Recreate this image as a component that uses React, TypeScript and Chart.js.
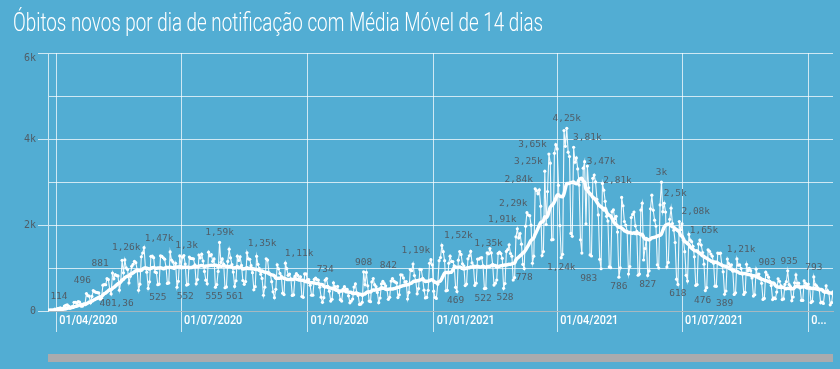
import React, { useEffect, useRef } from 'react';
import { Chart, registerables } from 'chart.js';

Chart.register(...registerables);

// ---------- DATA ----------
const startDate = '2020-03-26';

const mar2020 = [20, 15, 22, 22, 23, 42];
const apr2020 = [40, 58, 60, 73, 54, 67, 114, 133, 141, 115, 68, 99, 105, 204, 204, 188, 217, 206, 115, 113, 166, 165, 407, 357, 346, 189, 338, 474, 449, 435];
const may2020 = [428, 421, 275, 296, 600, 615, 610, 751, 730, 496, 396, 881, 749, 844, 824, 816, 485, 674, 1179, 888, 1188, 1001, 965, 653, 807, 1039, 1086, 1156, 1124, 956, 480];
const jun2020 = [623, 1262, 1349, 1473, 1005, 904, 525, 679, 1272, 1274, 1239, 909, 892, 612, 627, 1282, 1269, 1238, 1206, 1022, 641, 654, 1374, 1185, 1141, 990, 1109, 552, 692, 1280];
const jul2020 = [1038, 1252, 1290, 1091, 602, 620, 1254, 1223, 1220, 1214, 1071, 631, 733, 1300, 1233, 1322, 1163, 921, 716, 632, 1367, 1284, 1311, 1156, 1211, 555, 614, 921, 1595, 1129, 1212];
const aug2020 = [1088, 541, 561, 1154, 1437, 1237, 1079, 905, 572, 703, 1274, 1175, 1262, 1060, 709, 620, 684, 1352, 1212, 1204, 1054, 892, 494, 565, 1271, 1085, 984, 855, 758, 366, 553];
const sep2020 = [1215, 1184, 888, 855, 682, 447, 310, 504, 1075, 983, 874, 814, 415, 381, 1113, 987, 829, 858, 739, 363, 377, 809, 869, 829, 729, 794, 335, 317, 863, 863];
const oct2020 = [729, 728, 599, 366, 368, 734, 766, 730, 720, 552, 322, 201, 309, 716, 754, 571, 461, 230, 271, 657, 566, 497, 571, 432, 263, 231, 510, 566, 510, 502, 354];
const nov2020 = [190, 231, 278, 556, 630, 424, 363, 153, 162, 201, 908, 615, 898, 585, 230, 216, 676, 754, 612, 568, 431, 194, 302, 630, 691, 638, 587, 501, 272, 317];
const dec2020 = [697, 755, 694, 672, 654, 313, 376, 842, 836, 770, 672, 686, 279, 433, 964, 936, 1092, 823, 706, 401, 522, 968, 963, 762, 484, 303, 315, 481, 1111, 1194, 1074];
const jan2021 = [462, 314, 293, 620, 1171, 1242, 1524, 1379, 1171, 469, 480, 1110, 1274, 1151, 1151, 1050, 551, 452, 1183, 1382, 1316, 1096, 1050, 592, 627, 1214, 1283, 1386, 1119, 1051, 595];
const feb2021 = [647, 1209, 1208, 1232, 1239, 1051, 522, 528, 1350, 1330, 1452, 1351, 1085, 602, 647, 721, 1340, 1367, 1337, 1226, 527, 639, 1386, 1428, 1541, 1337, 1275, 721];
const mar2021 = [778, 1726, 1910, 1699, 1800, 1555, 1086, 987, 1972, 2286, 2233, 2216, 1997, 1111, 1275, 2841, 2798, 2724, 2815, 2438, 1290, 1383, 3251, 2009, 2777, 3650, 3438, 1656, 1660, 3668, 3869];
const apr2021 = [3769, 2922, 1987, 1240, 1319, 4195, 3829, 4249, 3693, 3593, 1803, 1738, 3808, 3459, 3560, 3305, 2929, 1657, 1347, 3321, 3472, 2027, 3370, 2865, 1305, 1279, 3086, 3163, 3001, 2595];
const may2021 = [2235, 1202, 983, 2966, 2811, 2550, 2202, 2091, 1024, 1007, 2311, 2350, 2145, 2201, 1835, 786, 1004, 2641, 2448, 2081, 1997, 1855, 860, 1035, 2173, 2245, 2300, 1981, 1855, 831, 860];
const jun2021 = [2346, 2507, 1186, 1454, 1689, 827, 935, 2378, 2693, 2344, 2112, 1976, 1074, 1000, 2468, 2997, 2311, 2504, 2301, 1025, 1129, 2131, 2392, 2032, 1880, 1593, 739, 618, 2081, 1891];
const jul2021 = [2029, 1648, 1379, 830, 695, 1780, 1648, 1612, 1505, 1259, 595, 614, 1556, 1650, 1532, 1360, 1088, 476, 542, 1424, 1388, 1324, 1274, 1108, 578, 573, 1346, 1340, 1344, 1074, 910];
const aug2021 = [389, 465, 1209, 1100, 1044, 1075, 924, 386, 422, 1210, 1064, 1071, 988, 858, 386, 435, 1086, 937, 989, 938, 770, 347, 378, 972, 832, 858, 770, 643, 269, 293, 903];
const sep2021 = [842, 786, 692, 591, 266, 303, 285, 440, 750, 692, 583, 266, 281, 618, 682, 935, 615, 565, 240, 326, 655, 839, 643, 648, 535, 246, 245, 700, 643, 595];
const oct2021 = [627, 538, 196, 225, 793, 615, 583, 541, 488, 191, 209, 176, 435, 587, 477, 422, 144, 197, 447];

const dailyDeaths: number[] = [
  ...mar2020, ...apr2020, ...may2020, ...jun2020, ...jul2020, ...aug2020, ...sep2020,
  ...oct2020, ...nov2020, ...dec2020, ...jan2021, ...feb2021, ...mar2021, ...apr2021,
  ...may2021, ...jun2021, ...jul2021, ...aug2021, ...sep2021, ...oct2021,
];

const movingWindow = 14;

const xTickDates = ['2020-04-01', '2020-07-01', '2020-10-01', '2021-01-01', '2021-04-01', '2021-07-01', '2021-10-01'];
const yLabeledTicks = [0, 2000, 4000, 6000];

// value labels shown on the chart
const labelDates = [
  '2020-04-03', '2020-04-20', '2020-05-03', '2020-05-22', '2020-06-15', '2020-07-05', '2020-07-29',
  '2020-08-29', '2020-09-25', '2020-10-14', '2020-11-11', '2020-11-29', '2020-12-19', '2021-01-19',
  '2021-02-10', '2021-02-20', '2021-02-28', '2021-03-04', '2021-03-11', '2021-03-14', '2021-04-08',
  '2021-04-23', '2021-05-03', '2021-05-15', '2021-04-04', '2021-04-24', '2021-05-16', '2021-06-06',
  '2021-06-16', '2021-06-26', '2021-07-11', '2021-07-17', '2021-06-28', '2021-07-16', '2021-08-01',
  '2021-08-13', '2021-09-01', '2021-09-17', '2021-10-05', '2021-01-17', '2021-02-06', '2021-02-22',
  '2021-03-08', '2020-06-14', '2020-07-04', '2020-07-25', '2020-08-09', '2020-05-15',
];
const labelValues = [
  114, 496, 881, 1262, 1473, 1300, 1595,
  1352, 1113, 734, 908, 842, 1194, 1524,
  1352, 1910, 2286, 2841, 3251, 3650, 4249,
  3808, 3472, 2811, 1240, 983, 786, 827,
  2997, 2504, 2081, 1650, 618, 476, 389,
  1210, 903, 935, 793, 469, 522, 528,
  778, 525, 552, 555, 561, 401.36,
];
const labelSides = [
  'a', 'a', 'a', 'a', 'a', 'a', 'a',
  'a', 'a', 'a', 'a', 'a', 'a', 'a',
  'a', 'a', 'a', 'a', 'a', 'a', 'a',
  'a', 'c', 'a', 'b', 'b', 'b', 'b',
  'a', 'a', 'a', 'a', 'b', 'b', 'b',
  'a', 'a', 'a', 'a', 'b', 'b', 'b',
  'c', 'b', 'b', 'b', 'b', 'b',
];

// ---------- HELPERS ----------
const dayNum = (s: string) => {
  const [y, m, d] = s.split('-').map(Number);
  return Math.round(Date.UTC(y, m - 1, d) / 86400000);
};
const pad2 = (n: number) => (n < 10 ? '0' + n : '' + n);
const fmtDate = (n: number) => {
  const dt = new Date(n * 86400000);
  return pad2(dt.getUTCDate()) + '/' + pad2(dt.getUTCMonth() + 1) + '/' + dt.getUTCFullYear();
};
const fmtValue = (v: number) => {
  if (v >= 1000) return String(Number((v / 1000).toPrecision(3))).replace('.', ',') + 'k';
  return String(Number(v.toFixed(2))).replace('.', ',');
};
const fmtAxis = (v: number) => (v === 0 ? '0' : v / 1000 + 'k');

const startDay = dayNum(startDate);
const endDay = startDay + dailyDeaths.length - 1;
const dailyPoints = dailyDeaths.map((v, i) => ({ x: startDay + i, y: v }));
const maPoints = dailyDeaths.map((_, i) => {
  const w = dailyDeaths.slice(Math.max(0, i - movingWindow + 1), i + 1);
  return { x: startDay + i, y: w.reduce((a, b) => a + b, 0) / w.length };
});

const BG = '#52add3';
const GRID = 'rgba(255,255,255,0.72)';
const LABEL_GREY = '#505d67';
const AXIS_MAX = 6000;

const valueLabelsPlugin = {
  id: 'valueLabels',
  afterDraw(chart: any) {
    const ctx = chart.ctx;
    const xs = chart.scales.x;
    const ys = chart.scales.y;
    ctx.save();
    ctx.font = '9.5px "DejaVu Sans Mono"';
    ctx.fillStyle = LABEL_GREY;
    ctx.textAlign = 'center';
    ctx.textBaseline = 'middle';
    labelDates.forEach((d, i) => {
      const v = labelValues[i];
      const side = labelSides[i];
      const off = side === 'a' ? -9.5 : side === 'b' ? 9.5 : 0;
      const x = xs.getPixelForValue(dayNum(d));
      const y = ys.getPixelForValue(v) + off;
      ctx.fillText(fmtValue(v), x, y);
    });
    // top axis label, kept inside the panel
    ctx.font = '10px "DejaVu Sans Mono"';
    ctx.textAlign = 'right';
    ctx.fillText(fmtAxis(AXIS_MAX), ys.right - 12, ys.getPixelForValue(AXIS_MAX) + 5.5);
    ctx.restore();
  },
};

const xLabelsPlugin = {
  id: 'xLabels',
  afterDraw(chart: any) {
    const ctx = chart.ctx;
    const xs = chart.scales.x;
    const sx = 0.84;
    ctx.save();
    ctx.font = '500 13px Roboto';
    ctx.fillStyle = '#ffffff';
    ctx.textAlign = 'left';
    ctx.textBaseline = 'middle';
    xs.ticks.forEach((t: any) => {
      const px = xs.getPixelForValue(t.value);
      let text = fmtDate(t.value);
      const avail = chart.chartArea.right - px - 8;
      if (ctx.measureText(text).width * sx > avail) {
        while (text.length > 1 && ctx.measureText(text + '...').width * sx > avail) text = text.slice(0, -1);
        text += '...';
      }
      ctx.save();
      ctx.translate(px + 3, xs.top + 9.5);
      ctx.scale(sx, 1);
      ctx.fillText(text, 0, 0);
      ctx.restore();
    });
    ctx.restore();
  },
};

export default function App() {
  const canvasRef = useRef<HTMLCanvasElement | null>(null);
  const titleRef = useRef<HTMLDivElement | null>(null);

  useEffect(() => {
    if (titleRef.current) {
      const w = titleRef.current.scrollWidth;
      if (w > 0) titleRef.current.style.transform = `scaleX(${530 / w})`;
    }
    const canvas = canvasRef.current;
    if (!canvas) return;
    const chart = new Chart(canvas, {
      type: 'line',
      data: {
        datasets: [
          {
            label: 'Média Móvel 14 dias',
            data: maPoints,
            borderColor: '#ffffff',
            borderWidth: 3.5,
            pointRadius: 0,
            tension: 0.4,
            order: 0,
          },
          {
            label: 'Óbitos novos',
            data: dailyPoints,
            borderColor: 'rgba(255,255,255,0.92)',
            borderWidth: 1.1,
            pointRadius: 1.6,
            pointBackgroundColor: '#ffffff',
            pointBorderWidth: 0,
            tension: 0,
            order: 1,
          },
        ],
      },
      options: {
        animation: false,
        responsive: false,
        events: [],
        layout: { padding: { top: 53, right: 7, bottom: 37, left: 0 } },
        plugins: {
          legend: { display: false },
          tooltip: { enabled: false },
          title: { display: false },
        },
        scales: {
          x: {
            type: 'linear',
            min: startDay,
            max: endDay,
            afterBuildTicks: (s: any) => {
              s.ticks = xTickDates.map((d) => ({ value: dayNum(d) }));
            },
            afterFit: (s: any) => {
              s.height = 21;
            },
            ticks: { display: false },
            grid: { color: GRID, lineWidth: 1, drawTicks: true, tickLength: 21, tickColor: GRID },
            border: { display: true, color: '#a7b8c0', width: 1 },
          },
          y: {
            min: 0,
            max: AXIS_MAX,
            afterFit: (s: any) => {
              s.width = 48;
            },
            ticks: {
              stepSize: 1000,
              padding: 2,
              color: LABEL_GREY,
              font: { family: 'DejaVu Sans Mono', size: 10 },
              callback: (v: any) => (yLabeledTicks.includes(v) && v !== AXIS_MAX ? fmtAxis(v) : ''),
            },
            grid: {
              color: GRID,
              lineWidth: 1,
              tickLength: 10,
              tickColor: (c: any) => (c.tick && yLabeledTicks.includes(c.tick.value) ? GRID : 'rgba(0,0,0,0)'),
            },
            border: { display: true, color: GRID, width: 1 },
          },
        },
      },
      plugins: [valueLabelsPlugin, xLabelsPlugin],
    });
    return () => chart.destroy();
  }, []);

  return (
    <div style={{ position: 'fixed', left: 0, top: 0, width: 840, height: 369, background: BG, overflow: 'hidden' }}>
      <canvas ref={canvasRef} width={840} height={369} style={{ position: 'absolute', left: 0, top: 0, width: 840, height: 369 }} />
      <div
        ref={titleRef}
        style={{
          position: 'absolute',
          left: 13,
          top: 10,
          fontFamily: 'Roboto, "Noto Sans", sans-serif',
          fontWeight: 300,
          fontSize: 25,
          lineHeight: '25px',
          color: '#ffffff',
          whiteSpace: 'nowrap',
          transformOrigin: 'left top',
        }}
      >
        Óbitos novos por dia de notificação com Média Móvel de 14 dias
      </div>
      <div style={{ position: 'absolute', left: 48, top: 354, width: 785, height: 8, background: '#a9abae' }} />
    </div>
  );
}
